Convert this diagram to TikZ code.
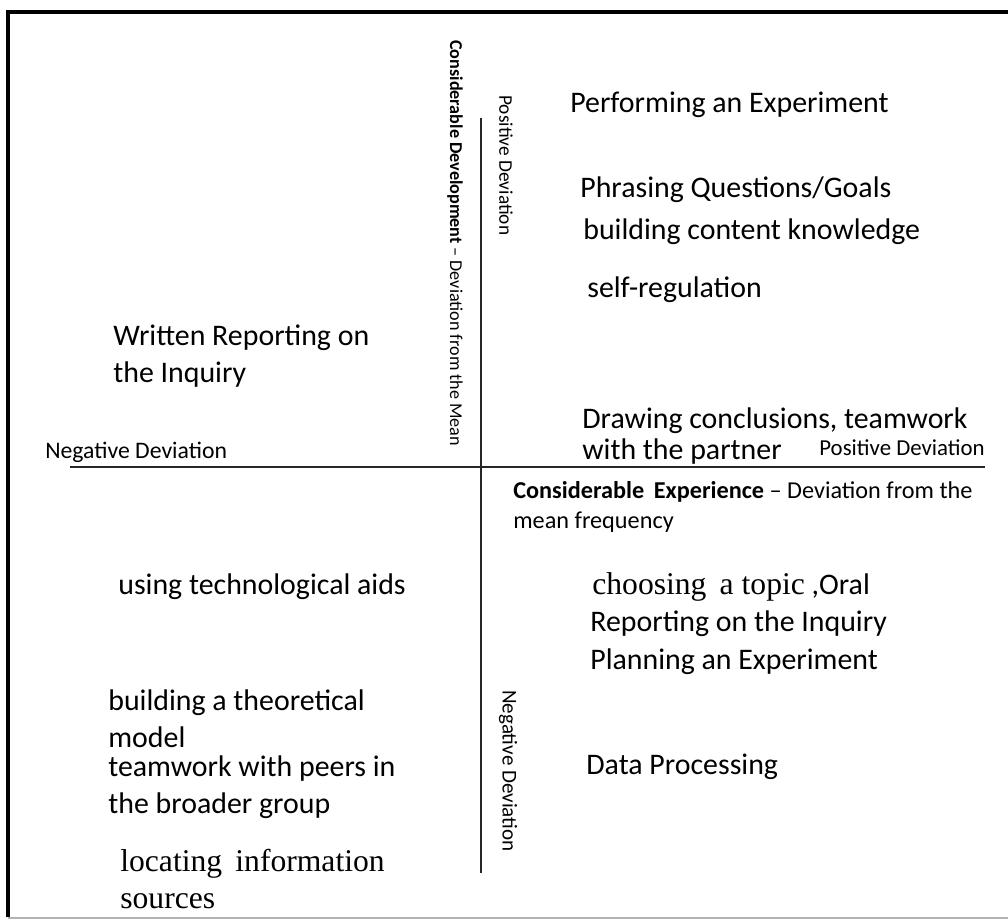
\documentclass[tikz,border=0pt]{standalone}
\usepackage{fontspec}
\setmainfont{Carlito}
\newfontfamily\timesfont{Liberation Serif}
\usetikzlibrary{positioning}

\begin{document}
\begin{tikzpicture}[x=0.02cm, y=-0.02cm,
    item/.style={anchor=west, inner sep=0pt, font=\fontsize{17}{21}\selectfont, align=left},
    serif item/.style={item, font=\timesfont\fontsize{18}{21.5}\selectfont},
    side label/.style={anchor=west, inner sep=0pt, font=\fontsize{13.5}{16}\selectfont},
    axis label/.style={inner sep=0pt, rotate=-90, anchor=west},
    axis/.style={line width=1.2pt, black!85},
  ]
  \useasboundingbox (0,0) rectangle (1008,921);

  % frame
  \draw[line width=2.2pt] (1008,12) -- (8,12) -- (8,917);
  \draw[line width=0.9pt, black!30] (8,918) -- (1008,918);

  % axes
  \coordinate (top)    at (481,118);
  \coordinate (bottom) at (481,873);
  \coordinate (left)   at (70,467);
  \coordinate (right)  at (985,467);
  \draw[axis] (top) -- (bottom);
  \draw[axis] (left) -- (right);

  % axis captions
  \node[axis label, font=\fontsize{10.3}{12}\selectfont] (devcap) at (455,40)
    {\textbf{Considerable Development} -- Deviation from the Mean};
  \node[axis label, font=\fontsize{11}{13}\selectfont] (posup) at (506,95) {Positive Deviation};
  \node[axis label, font=\fontsize{12}{14}\selectfont] (negdown) at (508,690) {Negative Deviation};
  \node[side label] (negleft) at (45,452) {Negative Deviation};
  \node[side label, anchor=east, font=\fontsize{13}{16}\selectfont] (posright) at (985,448) {Positive Deviation};
  \node[anchor=west, inner sep=0pt, align=left, font=\fontsize{13.8}{17}\selectfont] (expcap) at (513,507)
    {\textbf{Considerable\, Experience} -- Deviation from the\\mean frequency};

  % upper right
  \node[item] (perform) at (570,105) {Performing an Experiment};
  \node[item] (phrase)  at (580,190) {Phrasing Questions/Goals};
  \node[item] (content) at (583,232) {building content knowledge};
  \node[item] (selfreg) at (587,290) {self-regulation};
  \node[item, font=\fontsize{17}{17.6}\selectfont] (concl) at (582,436) {Drawing conclusions, teamwork\\with the partner};

  % upper left
  \node[item] (written) at (113,356) {Written Reporting on\\the Inquiry};

  % lower right
  \node[item] (topic)   at (592,587) {{\timesfont\fontsize{18}{21}\selectfont choosing\, a topic} ,Oral};
  \node[item] (oral)    at (590,624) {Reporting on the Inquiry};
  \node[item] (plan)    at (590,662) {Planning an Experiment};
  \node[item] (data)    at (586,767) {Data Processing};

  % lower left
  \node[item] (techaids) at (118,587) {using technological aids};
  \node[item] (theory)   at (108,719) {building a theoretical\\model};
  \node[item] (peers)    at (108,787) {teamwork with peers in\\the broader group};
  \node[serif item] (locate) at (120,879) {locating\, information\\sources};
\end{tikzpicture}
\end{document}
